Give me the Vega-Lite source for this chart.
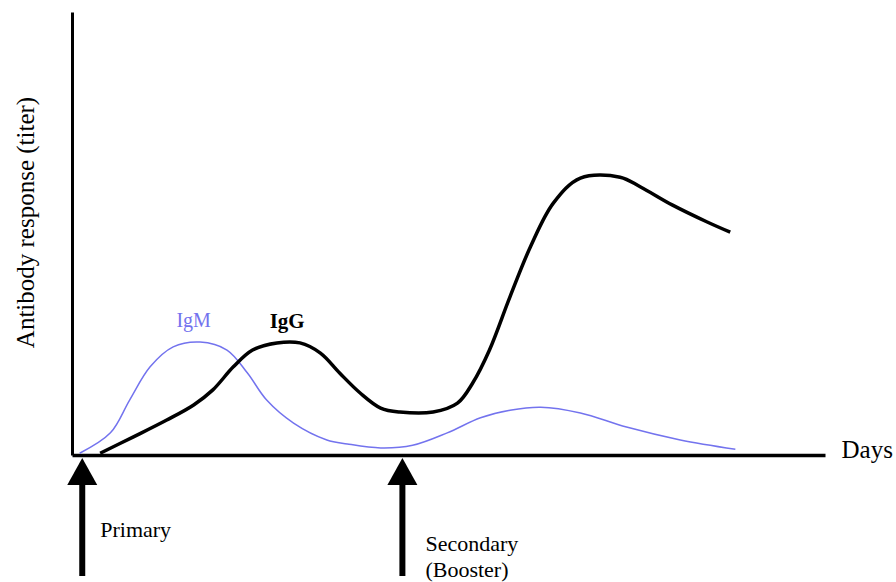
{
  "$schema": "https://vega.github.io/schema/vega-lite/v6.json",
  "width": 753,
  "height": 443,
  "autosize": {"type": "none"},
  "padding": {"left": 72, "top": 12, "right": 71, "bottom": 127},
  "background": "white",
  "config": {"view": {"stroke": null}, "font": "Liberation Serif"},
  "datasets": {
    "curves": [
      {"series": "IgM", "day": -0.2, "titer": 0.4},
      {"series": "IgM", "day": 2.2, "titer": 5.0},
      {"series": "IgM", "day": 3.7, "titer": 12.4},
      {"series": "IgM", "day": 5.3, "titer": 19.9},
      {"series": "IgM", "day": 7.1, "titer": 24.4},
      {"series": "IgM", "day": 9.2, "titer": 25.5},
      {"series": "IgM", "day": 11.3, "titer": 23.7},
      {"series": "IgM", "day": 12.9, "titer": 18.5},
      {"series": "IgM", "day": 14.4, "titer": 12.4},
      {"series": "IgM", "day": 16.5, "titer": 7.2},
      {"series": "IgM", "day": 19.1, "titer": 3.4},
      {"series": "IgM", "day": 20.7, "titer": 2.5},
      {"series": "IgM", "day": 23.3, "titer": 1.6},
      {"series": "IgM", "day": 25.8, "titer": 2.2},
      {"series": "IgM", "day": 28.5, "titer": 5.0},
      {"series": "IgM", "day": 31.1, "titer": 8.4},
      {"series": "IgM", "day": 33.4, "titer": 10.1},
      {"series": "IgM", "day": 35.8, "titer": 10.8},
      {"series": "IgM", "day": 38.9, "titer": 9.5},
      {"series": "IgM", "day": 42.5, "titer": 6.3},
      {"series": "IgM", "day": 46.7, "titer": 3.4},
      {"series": "IgM", "day": 51.0, "titer": 1.3},
      {"series": "IgG", "day": 1.4, "titer": 0.4},
      {"series": "IgG", "day": 4.0, "titer": 4.1},
      {"series": "IgG", "day": 6.6, "titer": 7.9},
      {"series": "IgG", "day": 8.7, "titer": 11.3},
      {"series": "IgG", "day": 10.2, "titer": 14.7},
      {"series": "IgG", "day": 11.8, "titer": 19.9},
      {"series": "IgG", "day": 13.3, "titer": 23.7},
      {"series": "IgG", "day": 15.2, "titer": 25.3},
      {"series": "IgG", "day": 17.0, "titer": 25.3},
      {"series": "IgG", "day": 18.6, "titer": 23.0},
      {"series": "IgG", "day": 20.1, "titer": 18.5},
      {"series": "IgG", "day": 21.7, "titer": 14.0},
      {"series": "IgG", "day": 23.3, "titer": 10.6},
      {"series": "IgG", "day": 24.8, "titer": 9.7},
      {"series": "IgG", "day": 27.4, "titer": 9.7},
      {"series": "IgG", "day": 29.3, "titer": 11.7},
      {"series": "IgG", "day": 30.5, "titer": 16.3},
      {"series": "IgG", "day": 31.8, "titer": 23.7},
      {"series": "IgG", "day": 33.4, "titer": 35.7},
      {"series": "IgG", "day": 35.0, "titer": 47.0},
      {"series": "IgG", "day": 36.8, "titer": 56.9},
      {"series": "IgG", "day": 38.9, "titer": 62.5},
      {"series": "IgG", "day": 42.0, "titer": 62.7},
      {"series": "IgG", "day": 43.6, "titer": 60.5},
      {"series": "IgG", "day": 46.1, "titer": 56.4},
      {"series": "IgG", "day": 48.8, "titer": 52.6},
      {"series": "IgG", "day": 50.6, "titer": 50.3}
    ],
    "events": [
      {"event": "Primary", "day": 0},
      {"event": "Secondary", "day": 25}
    ],
    "labels": [
      {"series": "IgM", "day": 8.7, "titer": 28.9},
      {"series": "IgG", "day": 16.0, "titer": 28.7}
    ]
  },
  "layer": [
    {
      "data": {"name": "curves"},
      "transform": [{"filter": "datum.series === 'IgM'"}],
      "mark": {"type": "line", "interpolate": "catmull-rom", "color": "#7373ee", "strokeWidth": 1.5},
      "encoding": {
        "x": {
          "field": "day", "type": "quantitative",
          "scale": {"domain": [-0.8, 58], "nice": false, "zero": false},
          "axis": {
            "title": "Days", "domainColor": "black", "domainWidth": 3.5,
            "ticks": false, "labels": false, "grid": false,
            "titleX": 769, "titleY": 2, "titleAlign": "left", "titleBaseline": "alphabetic",
            "titleFontSize": 25, "titleFontWeight": "normal", "titleFont": "Liberation Serif", "titleColor": "black"
          }
        },
        "y": {
          "field": "titer", "type": "quantitative",
          "scale": {"domain": [0, 100], "nice": false},
          "axis": {
            "title": "Antibody response (titer)", "domainColor": "black", "domainWidth": 3,
            "ticks": false, "labels": false, "grid": false,
            "titleX": -47, "titleY": 210, "titleAngle": -90, "titleAlign": "center", "titleBaseline": "middle",
            "titleFontSize": 25, "titleFontWeight": "normal", "titleFont": "Liberation Serif", "titleColor": "black"
          }
        }
      }
    },
    {
      "data": {"name": "curves"},
      "transform": [{"filter": "datum.series === 'IgG'"}],
      "mark": {"type": "line", "interpolate": "catmull-rom", "color": "black", "strokeWidth": 3.5},
      "encoding": {
        "x": {"field": "day", "type": "quantitative"},
        "y": {"field": "titer", "type": "quantitative"}
      }
    },
    {
      "data": {"name": "labels"},
      "transform": [{"filter": "datum.series === 'IgM'"}],
      "mark": {"type": "text", "align": "center", "baseline": "alphabetic", "fontSize": 20, "color": "#7373ee", "font": "Liberation Serif"},
      "encoding": {
        "x": {"field": "day", "type": "quantitative"},
        "y": {"field": "titer", "type": "quantitative"},
        "text": {"field": "series"}
      }
    },
    {
      "data": {"name": "labels"},
      "transform": [{"filter": "datum.series === 'IgG'"}],
      "mark": {"type": "text", "align": "center", "baseline": "alphabetic", "fontSize": 21, "fontWeight": "bold", "color": "black", "font": "Liberation Serif"},
      "encoding": {
        "x": {"field": "day", "type": "quantitative"},
        "y": {"field": "titer", "type": "quantitative"},
        "text": {"field": "series"}
      }
    },
    {
      "data": {"name": "events"},
      "mark": {"type": "rule", "color": "black", "strokeWidth": 6, "yOffset": 28, "y2Offset": 121},
      "encoding": {
        "x": {"field": "day", "type": "quantitative"},
        "y": {"datum": 0},
        "y2": {"datum": 0}
      }
    },
    {
      "data": {"name": "events"},
      "mark": {"type": "point", "shape": "M-1,0.9L1,0.9L0,-0.9Z", "size": 900, "filled": true, "color": "black", "opacity": 1, "yOffset": 16.5},
      "encoding": {
        "x": {"field": "day", "type": "quantitative"},
        "y": {"datum": 0}
      }
    },
    {
      "data": {"name": "events"},
      "transform": [{"filter": "datum.event === 'Primary'"}],
      "mark": {"type": "text", "align": "left", "baseline": "alphabetic", "fontSize": 22, "color": "black", "font": "Liberation Serif", "dx": 18, "dy": 82},
      "encoding": {
        "x": {"field": "day", "type": "quantitative"},
        "y": {"datum": 0},
        "text": {"value": "Primary"}
      }
    },
    {
      "data": {"name": "events"},
      "transform": [{"filter": "datum.event === 'Secondary'"}],
      "mark": {"type": "text", "align": "left", "baseline": "alphabetic", "fontSize": 22, "color": "black", "font": "Liberation Serif", "dx": 23, "dy": 96, "lineHeight": 26},
      "encoding": {
        "x": {"field": "day", "type": "quantitative"},
        "y": {"datum": 0},
        "text": {"value": ["Secondary", "(Booster)"]}
      }
    }
  ]
}
